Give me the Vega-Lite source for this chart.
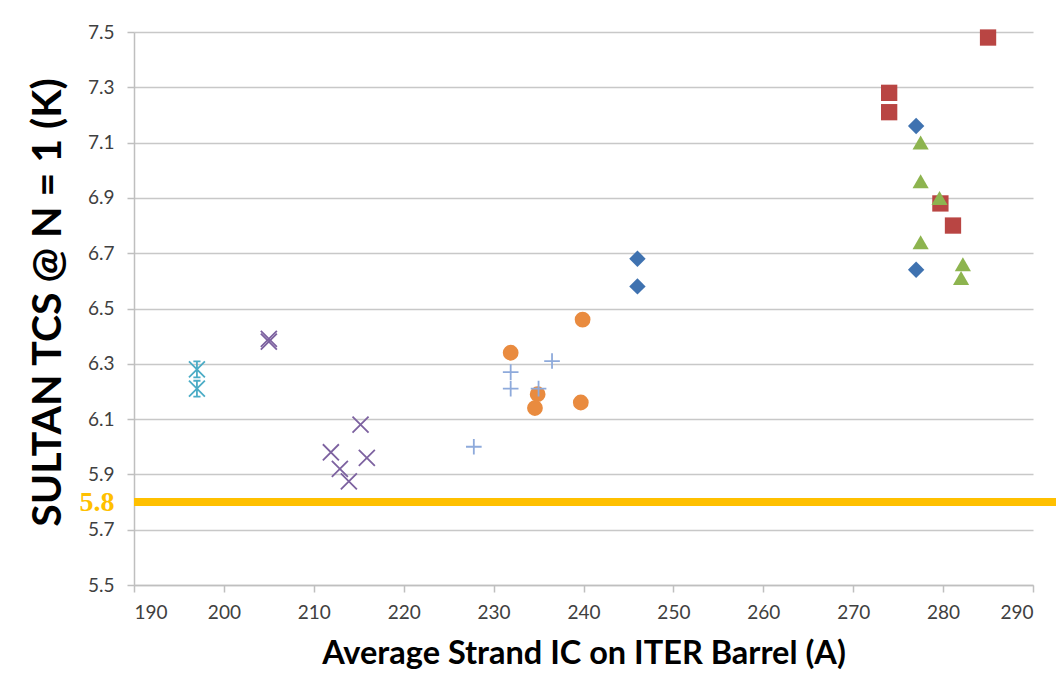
{
  "$schema": "https://vega.github.io/schema/vega-lite/v6.json",
  "width": 899,
  "height": 553,
  "autosize": {"type": "none"},
  "padding": {"left": 134, "top": 32, "right": 23, "bottom": 110},
  "background": "white",
  "config": {"view": {"stroke": null}},
  "data": {"values": [
    {"series": "A", "ic": 246, "tcs": 6.68},
    {"series": "A", "ic": 246, "tcs": 6.58},
    {"series": "A", "ic": 277, "tcs": 7.16},
    {"series": "A", "ic": 277, "tcs": 6.64},
    {"series": "B", "ic": 285, "tcs": 7.48},
    {"series": "B", "ic": 274, "tcs": 7.28},
    {"series": "B", "ic": 274, "tcs": 7.21},
    {"series": "B", "ic": 279.7, "tcs": 6.88},
    {"series": "B", "ic": 281.1, "tcs": 6.80},
    {"series": "C", "ic": 277.5, "tcs": 7.10},
    {"series": "C", "ic": 277.5, "tcs": 6.96},
    {"series": "C", "ic": 279.6, "tcs": 6.90},
    {"series": "C", "ic": 277.5, "tcs": 6.74},
    {"series": "C", "ic": 282.2, "tcs": 6.66},
    {"series": "C", "ic": 282.0, "tcs": 6.61},
    {"series": "D", "ic": 205, "tcs": 6.39},
    {"series": "D", "ic": 205, "tcs": 6.38},
    {"series": "D", "ic": 215.2, "tcs": 6.08},
    {"series": "D", "ic": 211.9, "tcs": 5.98},
    {"series": "D", "ic": 215.9, "tcs": 5.96},
    {"series": "D", "ic": 212.9, "tcs": 5.92},
    {"series": "D", "ic": 213.9, "tcs": 5.875},
    {"series": "E", "ic": 197, "tcs": 6.28},
    {"series": "E", "ic": 197, "tcs": 6.21},
    {"series": "F", "ic": 231.9, "tcs": 6.34},
    {"series": "F", "ic": 234.9, "tcs": 6.19},
    {"series": "F", "ic": 234.6, "tcs": 6.14},
    {"series": "F", "ic": 239.7, "tcs": 6.16},
    {"series": "F", "ic": 239.9, "tcs": 6.46},
    {"series": "G", "ic": 227.8, "tcs": 6.00},
    {"series": "G", "ic": 231.9, "tcs": 6.27},
    {"series": "G", "ic": 231.9, "tcs": 6.21},
    {"series": "G", "ic": 235.0, "tcs": 6.21},
    {"series": "G", "ic": 236.5, "tcs": 6.31}
  ]},
  "layer": [
    {
      "mark": {"type": "rule", "color": "#FFC000", "strokeWidth": 7, "clip": false},
      "encoding": {
        "y": {"datum": 5.8, "type": "quantitative", "scale": {"domain": [5.5, 7.5], "nice": false, "zero": false}},
        "x": {"datum": 190, "type": "quantitative"},
        "x2": {"datum": 292.5}
      }
    },
    {
      "transform": [{"filter": "indexof(['A','B','C','F'], datum.series) >= 0"}],
      "mark": {"type": "point", "filled": true, "opacity": 1, "strokeWidth": 0},
      "encoding": {
        "x": {"field": "ic", "type": "quantitative"},
        "y": {"field": "tcs", "type": "quantitative"},
        "color": {"field": "series", "type": "nominal", "legend": null,
          "scale": {"domain": ["A","B","C","D","E","F","G"],
                    "range": ["#3F72B0","#B94543","#8DB44F","#7D62A0","#4BACC6","#E98B3F","#8EAADB"]}},
        "shape": {"field": "series", "type": "nominal", "legend": null,
          "scale": {"domain": ["A","B","C","D","E","F","G"],
                    "range": ["diamond","square","triangle-up","M-1,-1L1,1M-1,1L1,-1","M-1,-1L1,1M-1,1L1,-1M0,-1L0,1M-0.45,-1L0.45,-1M-0.45,1L0.45,1","circle","M-1,0L1,0M0,-1L0,1"]}},
        "size": {"field": "series", "type": "nominal", "legend": null,
          "scale": {"domain": ["A","B","C","D","E","F","G"],
                    "range": [270, 245, 290, 260, 170, 250, 230]}}
      }
    },
    {
      "transform": [{"filter": "indexof(['D','E','G'], datum.series) >= 0"}],
      "mark": {"type": "point", "filled": false, "opacity": 1, "strokeWidth": 1.8},
      "encoding": {
        "x": {"field": "ic", "type": "quantitative"},
        "y": {"field": "tcs", "type": "quantitative"},
        "color": {"field": "series", "type": "nominal", "legend": null},
        "shape": {"field": "series", "type": "nominal", "legend": null},
        "size": {"field": "series", "type": "nominal", "legend": null}
      }
    }
  ],
  "resolve": {"scale": {"color": "shared", "shape": "shared", "size": "shared"}},
  "encoding": {
    "x": {
      "field": "ic", "type": "quantitative",
      "scale": {"domain": [190, 290], "nice": false, "zero": false},
      "axis": {
        "title": "Average Strand IC on ITER Barrel (A)",
        "values": [190,200,210,220,230,240,250,260,270,280,290],
        "grid": false,
        "domainColor": "#bfbfbf", "domainWidth": 1.5,
        "tickColor": "#bfbfbf", "tickSize": 7, "tickWidth": 1.5,
        "labelFont": "Lato", "labelFontSize": 19, "labelColor": "#404040", "labelPadding": 11,
        "titleFont": "Lato", "titleFontSize": 32.5, "titleFontWeight": "bold", "titleColor": "#000000",
        "titlePadding": 15
      }
    },
    "y": {
      "field": "tcs", "type": "quantitative",
      "scale": {"domain": [5.5, 7.5], "nice": false, "zero": false},
      "axis": {
        "title": "SULTAN TCS @ N = 1 (K)",
        "values": [5.5,5.7,5.8,5.9,6.1,6.3,6.5,6.7,6.9,7.1,7.3,7.5],
        "format": ".1f",
        "grid": true,
        "gridColor": {"condition": {"test": "datum.value == 5.8", "value": "transparent"}, "value": "#c8c8c8"},
        "gridWidth": 1.5,
        "domainColor": "#bfbfbf", "domainWidth": 1.5,
        "tickColor": {"condition": {"test": "datum.value == 5.8", "value": "transparent"}, "value": "#bfbfbf"},
        "tickSize": 7, "tickWidth": 1.5,
        "labelFont": {"condition": {"test": "datum.value == 5.8", "value": "Liberation Serif"}, "value": "Lato"},
        "labelFontSize": {"condition": {"test": "datum.value == 5.8", "value": 28}, "value": 19},
        "labelFontWeight": {"condition": {"test": "datum.value == 5.8", "value": "bold"}, "value": "normal"},
        "labelColor": {"condition": {"test": "datum.value == 5.8", "value": "#FFC000"}, "value": "#404040"},
        "labelPadding": 13,
        "titleFont": "Lato", "titleFontSize": 41, "titleFontWeight": "bold", "titleColor": "#000000",
        "titlePadding": 10,
        "titleY": 270
      }
    }
  }
}
